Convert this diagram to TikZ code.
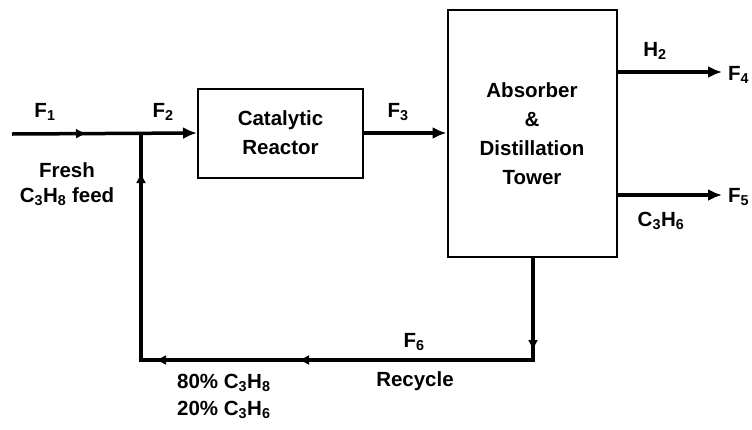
\documentclass[tikz,border=0pt]{standalone}
\usepackage{fontspec}
\setmainfont{Liberation Sans}
\usetikzlibrary{arrows.meta,decorations.markings}
\begin{document}
\begin{tikzpicture}[x=1pt,y=-1pt,
  font=\bfseries\fontsize{20.5}{22}\selectfont,
  unit/.style={draw,line width=2pt,minimum width=#1,inner sep=0pt,align=center},
  stream/.style={line width=3.5pt,-{Latex[length=14pt,width=12pt]}},
  pipe/.style={line width=3.5pt},
  lbl/.style={inner sep=0pt,align=center},
  midtip/.style={postaction={decorate},decoration={markings,
     mark=at position #1 with {\arrow{Latex[length=11pt,width=10pt]}}}}]
\useasboundingbox (0,0) rectangle (752,429);
\clip (0,0) rectangle (752,429);
% units
\node[unit=165pt,minimum height=89pt] (reactor) at (280.5,133) {Catalytic\\[7pt]Reactor};
\node[unit=169pt,minimum height=247pt] (tower) at (532,133.5) {Absorber\\[7pt]\&\\[7pt]Distillation\\[7pt]Tower};
% coordinates
\coordinate (in1) at (12,134);
\coordinate (jn) at (141,134);
\coordinate (h2end) at (722,72);
\coordinate (h2start) at (tower.east |- h2end);
\coordinate (c3end) at (722,195);
\coordinate (c3start) at (tower.east |- c3end);
\coordinate (rtop) at (533,257);
\coordinate (rcorner) at (533,360);
\coordinate (lcorner) at (141,360);
% streams
\draw[stream,midtip=75pt] (in1) -- (reactor.west);
\draw[stream] (reactor.east) -- (tower.west |- reactor.east);
\draw[stream] (h2start) -- (h2end);
\draw[stream] (c3start) -- (c3end);
\draw[pipe,line join=miter,
  postaction={decorate},decoration={markings,
    mark=at position 93pt with {\arrow{Latex[length=11pt,width=10pt]}},
    mark=at position 337pt with {\arrow{Latex[length=11pt,width=10pt]}},
    mark=at position 480pt with {\arrow{Latex[length=11pt,width=10pt]}},
    mark=at position 682pt with {\arrow{Latex[length=11pt,width=10pt]}}}]
  (tower.south -| rtop) -- (rcorner) -- (lcorner) -- (jn);
% labels
\node[lbl] (lf1) at (45,112) {F\textsubscript{1}};
\node[lbl] (lf2) at (163,112) {F\textsubscript{2}};
\node[lbl] (lf3) at (398,112) {F\textsubscript{3}};
\node[lbl] (lfresh) at (67,170) {Fresh};
\node[lbl] (lfeed) at (67,197) {C\textsubscript{3}H\textsubscript{8} feed};
\node[lbl] (lh2) at (655,51) {H\textsubscript{2}};
\node[lbl,anchor=west] (lf4) at (728,75) {F\textsubscript{4}};
\node[lbl,anchor=west] (lf5) at (728,197) {F\textsubscript{5}};
\node[lbl] (lc3) at (661,221) {C\textsubscript{3}H\textsubscript{6}};
\node[lbl] (lf6) at (414,342) {F\textsubscript{6}};
\node[lbl] (lrec) at (415,381) {Recycle};
\node[lbl,anchor=west] (lp80) at (177,383) {80\% C\textsubscript{3}H\textsubscript{8}};
\node[lbl,anchor=west] (lp20) at (177,410) {20\% C\textsubscript{3}H\textsubscript{6}};
\end{tikzpicture}
\end{document}
